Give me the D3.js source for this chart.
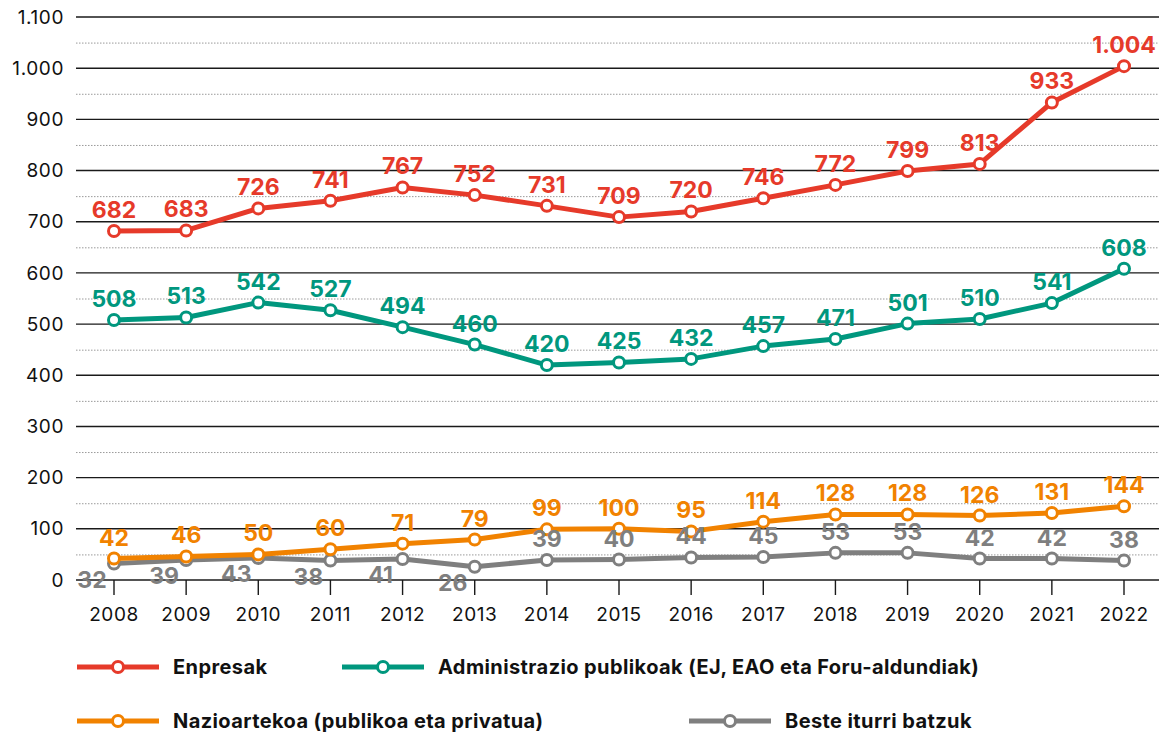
<!DOCTYPE html>
<html>
<head>
<meta charset="utf-8">
<script src="https://cdn.jsdelivr.net/npm/d3@7"></script>
<style>
  body { margin: 0; background: #fff; }
  svg { display: block; font-family: Inter, "Open Sans", sans-serif; }
</style>
</head>
<body>
<svg id="chart" width="1159" height="734"></svg>
<script>
const years = [2008, 2009, 2010, 2011, 2012, 2013, 2014, 2015, 2016, 2017, 2018, 2019, 2020, 2021, 2022];
const enpresak = [682, 683, 726, 741, 767, 752, 731, 709, 720, 746, 772, 799, 813, 933, 1004];
const administrazioa = [508, 513, 542, 527, 494, 460, 420, 425, 432, 457, 471, 501, 510, 541, 608];
const nazioartekoa = [42, 46, 50, 60, 71, 79, 99, 100, 95, 114, 128, 128, 126, 131, 144];
const besteak = [32, 39, 43, 38, 41, 26, 39, 40, 44, 45, 53, 53, 42, 42, 38];
const yTicks = [0, 100, 200, 300, 400, 500, 600, 700, 800, 900, 1000, 1100];

const series = [
    { name: "Enpresak", values: enpresak, color: "#e63a2a" },
    { name: "Administrazio publikoak (EJ, EAO eta Foru-aldundiak)", values: administrazioa, color: "#00977e" },
    { name: "Nazioartekoa (publikoa eta privatua)", values: nazioartekoa, color: "#f18200" },
    { name: "Beste iturri batzuk", values: besteak, color: "#7f7f7f" },
];

const locale = d3.formatLocale({ decimal: ",", thousands: ".", grouping: [3], currency: ["", ""] });
const fmt = locale.format(",d");

const svg = d3.select("#chart");
const x = d3.scaleLinear().domain([2008, 2022]).range([114, 1124]);
const y = d3.scaleLinear().domain([0, 1100]).range([580, 17]);
const left = 76, right = 1159;

// minor dotted grid
svg.append("g").selectAll("line")
    .data(d3.range(50, 1100, 100))
    .enter().append("line")
    .attr("x1", left).attr("x2", right)
    .attr("y1", d => y(d) + 0.5).attr("y2", d => y(d) + 0.5)
    .attr("stroke", "#9a9a9a").attr("stroke-width", 1)
    .attr("stroke-dasharray", "1.5,1.5");

// major grid + labels
const grid = svg.append("g");
grid.selectAll("line")
    .data(yTicks)
    .enter().append("line")
    .attr("x1", left).attr("x2", right)
    .attr("y1", d => y(d)).attr("y2", d => y(d))
    .attr("stroke", "#1a1a1a").attr("stroke-width", 1.4);
grid.selectAll("text")
    .data(yTicks)
    .enter().append("text")
    .attr("x", 64).attr("y", d => y(d))
    .attr("dy", "0.35em")
    .attr("text-anchor", "end")
    .attr("font-size", 19)
    .attr("letter-spacing", 0.6)
    .attr("fill", "#111")
    .text(d => fmt(d));

// x ticks and years
const xg = svg.append("g");
xg.selectAll("line")
    .data(years)
    .enter().append("line")
    .attr("x1", d => x(d)).attr("x2", d => x(d))
    .attr("y1", y(0)).attr("y2", y(0) + 15)
    .attr("stroke", "#1a1a1a").attr("stroke-width", 1.4);
xg.selectAll("text")
    .data(years)
    .enter().append("text")
    .attr("x", d => x(d)).attr("y", 621)
    .attr("text-anchor", "middle")
    .attr("font-size", 19)
    .attr("letter-spacing", 0.6)
    .attr("fill", "#111")
    .text(d => d);

const line = d3.line().x((d, i) => x(years[i])).y(d => y(d));

// draw bottom-up so red is on top
[...series].reverse().forEach(s => {
    const g = svg.append("g");
    g.append("path")
        .attr("d", line(s.values))
        .attr("fill", "none")
        .attr("stroke", s.color)
        .attr("stroke-width", 5)
        .attr("stroke-linejoin", "round");
    g.selectAll("circle")
        .data(s.values)
        .enter().append("circle")
        .attr("cx", (d, i) => x(years[i]))
        .attr("cy", d => y(d))
        .attr("r", 5.5)
        .attr("fill", "#fff")
        .attr("stroke", s.color)
        .attr("stroke-width", 3);
});

// value labels
series.forEach((s, si) => {
    const low = si === 3;
    svg.append("g").selectAll("text")
        .data(s.values)
        .enter().append("text")
        .attr("x", (d, i) => x(years[i]) - (low && i < 6 ? 22 : 0))
        .attr("y", (d, i) => low && i < 6 ? y(d) + 24 : y(d) - 13)
        .attr("text-anchor", "middle")
        .attr("font-size", 23)
        .attr("font-weight", 700)
        .attr("fill", s.color)
        .text(d => fmt(d));
});

// legend
const legendPos = [[77, 667], [342, 667], [77, 721], [689, 721]];
series.forEach((s, i) => {
    const [lx, ly] = legendPos[i];
    const g = svg.append("g").attr("transform", `translate(${lx},${ly})`);
    g.append("line")
        .attr("x1", 0).attr("x2", 82)
        .attr("y1", 0).attr("y2", 0)
        .attr("stroke", s.color).attr("stroke-width", 5);
    g.append("circle")
        .attr("cx", 41).attr("cy", 0).attr("r", 5.5)
        .attr("fill", "#fff").attr("stroke", s.color).attr("stroke-width", 3);
    g.append("text")
        .attr("x", 96).attr("y", 0).attr("dy", "0.35em")
        .attr("font-size", 20).attr("font-weight", 700)
        .attr("letter-spacing", 0.4)
        .attr("fill", "#111")
        .text(s.name);
});
</script>
</body>
</html>
